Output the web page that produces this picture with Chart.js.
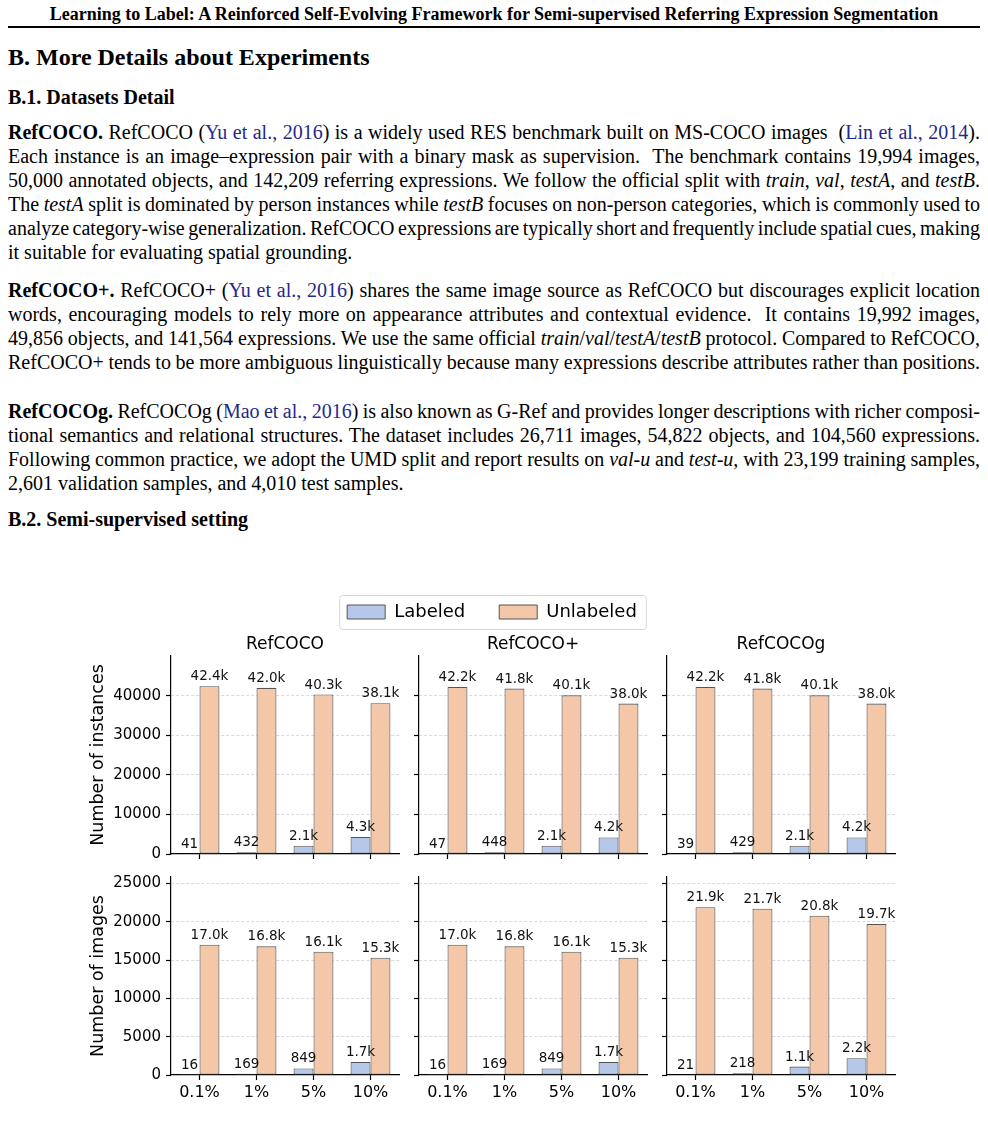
<!DOCTYPE html>
<html>
<head>
<meta charset="utf-8">
<script src="https://cdn.jsdelivr.net/npm/chart.js@4.4.1/dist/chart.umd.min.js"></script>
<style>
  html, body { margin: 0; padding: 0; background: #fff; }
  body { width: 988px; height: 1128px; position: relative; overflow: hidden;
         font-family: "Liberation Serif", "Times New Roman", serif; color: #000; }
  .abs { position: absolute; }
  .hdr { left: 8px; width: 972px; top: 4px; text-align: center; font-weight: bold; font-size: 18px; line-height: 20px; }
  .rule { left: 8px; width: 972px; top: 26px; height: 2px; background: #000; }
  .h1 { left: 8px; top: 43px; font-size: 24px; font-weight: bold; line-height: 28px; }
  .h2 { left: 8px; font-size: 20px; font-weight: bold; line-height: 24px; }
  .para { left: 8px; width: 972px; font-size: 20px; line-height: 24px; }
  .ln { white-space: nowrap; text-align: justify; text-align-last: justify; height: 24px; }
  .ln.last { text-align: left; text-align-last: left; }
  .cite { color: #1f2a8c; }
  canvas { position: absolute; }
</style>
</head>
<body>

<div class="abs hdr">Learning to Label: A Reinforced Self-Evolving Framework for Semi-supervised Referring Expression Segmentation</div>
<div class="abs rule"></div>
<div class="abs h1">B. More Details about Experiments</div>
<div class="abs h2" style="top:85px">B.1. Datasets Detail</div>

<div class="abs para" style="top:120px">
  <div class="ln"><b>RefCOCO.</b> RefCOCO (<span class="cite">Yu et al., 2016</span>) is a widely used RES benchmark built on MS-COCO images &nbsp;(<span class="cite">Lin et al., 2014</span>).</div>
  <div class="ln">Each instance is an image–expression pair with a binary mask as supervision. &nbsp;The benchmark contains 19,994 images,</div>
  <div class="ln">50,000 annotated objects, and 142,209 referring expressions. We follow the official split with <i>train</i>, <i>val</i>, <i>testA</i>, and <i>testB</i>.</div>
  <div class="ln">The <i>testA</i> split is dominated by person instances while <i>testB</i> focuses on non-person categories, which is commonly used to</div>
  <div class="ln">analyze category-wise generalization. RefCOCO expressions are typically short and frequently include spatial cues, making</div>
  <div class="ln last">it suitable for evaluating spatial grounding.</div>
</div>

<div class="abs para" style="top:278px">
  <div class="ln"><b>RefCOCO+.</b> RefCOCO+ (<span class="cite">Yu et al., 2016</span>) shares the same image source as RefCOCO but discourages explicit location</div>
  <div class="ln">words, encouraging models to rely more on appearance attributes and contextual evidence. &nbsp;It contains 19,992 images,</div>
  <div class="ln">49,856 objects, and 141,564 expressions. We use the same official <i>train</i>/<i>val</i>/<i>testA</i>/<i>testB</i> protocol. Compared to RefCOCO,</div>
  <div class="ln">RefCOCO+ tends to be more ambiguous linguistically because many expressions describe attributes rather than positions.</div>
</div>

<div class="abs para" style="top:399px">
  <div class="ln"><b>RefCOCOg.</b> RefCOCOg (<span class="cite">Mao et al., 2016</span>) is also known as G-Ref and provides longer descriptions with richer composi-</div>
  <div class="ln">tional semantics and relational structures. The dataset includes 26,711 images, 54,822 objects, and 104,560 expressions.</div>
  <div class="ln">Following common practice, we adopt the UMD split and report results on <i>val-u</i> and <i>test-u</i>, with 23,199 training samples,</div>
  <div class="ln last">2,601 validation samples, and 4,010 test samples.</div>
</div>

<div class="abs h2" style="top:507px">B.2. Semi-supervised setting</div>

<script>
// squeeze justified lines that are naturally wider than the column
document.querySelectorAll('.ln').forEach(el => {
  el.innerHTML = '<span>' + el.innerHTML + '</span>';
  const span = el.firstElementChild;
  const prev = el.style.textAlignLast;
  el.style.textAlign = 'left';
  el.style.textAlignLast = 'left';
  const w = span.getBoundingClientRect().width;
  el.style.textAlign = '';
  el.style.textAlignLast = prev;
  const target = 972;
  if (w > target) {
    const spaces = (span.textContent.match(/ /g) || []).length;
    if (spaces) el.style.wordSpacing = ((target - w) / spaces - 0.05) + 'px';
  }
});
</script>

<script>
// ---- data ----
const percents = ["0.1%", "1%", "5%", "10%"];
const datasetNames = ["RefCOCO", "RefCOCO+", "RefCOCOg"];

// number of instances
const refcocoInstLabeled = [41, 432, 2100, 4300];
const refcocoInstUnlabeled = [42400, 42000, 40300, 38100];
const refcocoPlusInstLabeled = [47, 448, 2100, 4200];
const refcocoPlusInstUnlabeled = [42200, 41800, 40100, 38000];
const refcocogInstLabeled = [39, 429, 2100, 4200];
const refcocogInstUnlabeled = [42200, 41800, 40100, 38000];

// number of images
const refcocoImgLabeled = [16, 169, 849, 1700];
const refcocoImgUnlabeled = [17000, 16800, 16100, 15300];
const refcocoPlusImgLabeled = [16, 169, 849, 1700];
const refcocoPlusImgUnlabeled = [17000, 16800, 16100, 15300];
const refcocogImgLabeled = [21, 218, 1100, 2200];
const refcocogImgUnlabeled = [21900, 21700, 20800, 19700];

const instTicks = [0, 10000, 20000, 30000, 40000];
const imgTicks = [0, 5000, 10000, 15000, 20000, 25000];

// ---- style ----
const FONT = "DejaVu Sans";
const blue = "#b5c8ea";
const peach = "#f4c7a9";
const edge = "#555555";

Chart.defaults.font.family = FONT;
Chart.defaults.color = "#000";

const fmt = (v) => (v >= 1000 ? (v / 1000).toFixed(1) + "k" : String(v));

const barValueLabels = {
  id: "barValueLabels",
  afterDatasetsDraw(chart) {
    const { ctx } = chart;
    ctx.save();
    ctx.font = "13.5px '" + FONT + "'";
    ctx.fillStyle = "#111";
    ctx.textAlign = "center";
    ctx.textBaseline = "alphabetic";
    chart.data.datasets.forEach((ds, i) => {
      chart.getDatasetMeta(i).data.forEach((bar, j) => {
        ctx.fillText(fmt(ds.data[j]), bar.x, bar.y - 6);
      });
    });
    ctx.restore();
  },
};

const rows = [
  {
    top: 656,
    yTitle: "Number of instances",
    ticks: instTicks,
    labeled: [refcocoInstLabeled, refcocoPlusInstLabeled, refcocogInstLabeled],
    unlabeled: [refcocoInstUnlabeled, refcocoPlusInstUnlabeled, refcocogInstUnlabeled],
  },
  {
    top: 877,
    yTitle: "Number of images",
    ticks: imgTicks,
    labeled: [refcocoImgLabeled, refcocoPlusImgLabeled, refcocogImgLabeled],
    unlabeled: [refcocoImgUnlabeled, refcocoPlusImgUnlabeled, refcocogImgUnlabeled],
  },
];

const colLeft = [171, 419, 667];
const plotW = 228;
const plotH = 198;
const xAxisH = 30;

function addCanvas(left, top, w, h) {
  const c = document.createElement("canvas");
  c.width = w;
  c.height = h;
  c.style.left = left + "px";
  c.style.top = top + "px";
  c.style.width = w + "px";
  c.style.height = h + "px";
  document.body.appendChild(c);
  return c;
}

rows.forEach((row, r) => {
  const yMax = Math.max(...row.unlabeled.flat()) * 1.18;
  datasetNames.forEach((name, c) => {
    const yw = c === 0 ? 91 : 10;
    const topSpace = r === 0 ? 36 : 20;
    const canvas = addCanvas(colLeft[c] - yw, row.top - topSpace, yw + plotW + 12, topSpace + plotH + xAxisH);

    new Chart(canvas, {
      type: "bar",
      data: {
        labels: percents,
        datasets: [
          { label: "Labeled", data: row.labeled[c], backgroundColor: blue, borderColor: edge, borderWidth: 1.1, borderSkipped: false },
          { label: "Unlabeled", data: row.unlabeled[c], backgroundColor: peach, borderColor: edge, borderWidth: 1.1, borderSkipped: false },
        ],
      },
      options: {
        responsive: false,
        animation: false,
        devicePixelRatio: 1,
        layout: { padding: { top: r === 0 ? 0 : 20, right: 12, left: 0, bottom: 0 } },
        datasets: { bar: { categoryPercentage: 0.7, barPercentage: 1.0 } },
        plugins: {
          legend: { display: false },
          tooltip: { enabled: false },
          title: {
            display: r === 0,
            text: name,
            fullSize: false,
            color: "#000",
            font: { family: FONT, size: 17, weight: "normal" },
            padding: { top: 14.6, bottom: 1 },
          },
        },
        scales: {
          x: {
            grid: { drawOnChartArea: false, drawTicks: true, tickLength: 5, tickColor: "#000", tickWidth: 1.2, offset: false },
            border: { display: true, color: "#000", width: 1.2 },
            ticks: { display: r === 1, color: "#000", font: { family: FONT, size: 16 }, padding: 3.5, autoSkip: false, maxRotation: 0 },
            afterFit: (s) => { s.height = xAxisH; },
          },
          y: {
            min: 0,
            max: yMax,
            afterBuildTicks: (s) => { s.ticks = row.ticks.map((v) => ({ value: v })); },
            grid: {
              color: (ctx) => (ctx.tick && ctx.tick.value === 0 ? "rgba(0,0,0,0)" : "#cfcfcf"),
              lineWidth: 0.8,
              tickColor: "#000",
              tickLength: 5,
              tickWidth: 1.2,
            },
            border: { display: true, color: "#000", width: 1.2, dash: [3, 2] },
            ticks: {
              display: c === 0,
              color: "#000",
              font: { family: FONT, size: 15 },
              padding: 5,
              callback: (v) => String(v),
            },
            title: {
              display: c === 0,
              text: row.yTitle,
              color: "#000",
              font: { family: FONT, size: 17.5 },
              padding: { top: 7.5, bottom: 0 },
            },
            afterFit: (s) => { s.width = yw; },
          },
        },
      },
      plugins: [barValueLabels],
    });
  });
});

// ---- shared legend ----
const legendFrame = {
  id: "legendFrame",
  afterDraw(chart) {
    const hb = chart.legend.legendHitBoxes;
    if (!hb || !hb.length) return;
    const last = hb[hb.length - 1];
    const x0 = hb[0].left - 8;
    const x1 = last.left + last.width + 9;
    const y0 = hb[0].top - 8;
    const y1 = hb[0].top + hb[0].height + 8;
    const { ctx } = chart;
    ctx.save();
    ctx.strokeStyle = "#d6d6d6";
    ctx.lineWidth = 1;
    ctx.beginPath();
    ctx.roundRect(x0 + 0.5, y0 + 0.5, x1 - x0, y1 - y0, 3);
    ctx.stroke();
    ctx.restore();
  },
};

const legendCanvas = addCanvas(0, 569, 984, 140);
new Chart(legendCanvas, {
  type: "bar",
  data: {
    labels: [],
    datasets: [
      { label: "Labeled", data: [], backgroundColor: blue, borderColor: edge, borderWidth: 1 },
      { label: "Unlabeled", data: [], backgroundColor: peach, borderColor: edge, borderWidth: 1 },
    ],
  },
  options: {
    responsive: false,
    animation: false,
    devicePixelRatio: 1,
    scales: { x: { display: false }, y: { display: false } },
    plugins: {
      tooltip: { enabled: false },
      legend: {
        display: true,
        position: "top",
        labels: { boxWidth: 38, boxHeight: 14, padding: 34, color: "#000", font: { family: FONT, size: 18 } },
      },
    },
  },
  plugins: [legendFrame],
});
</script>
</body>
</html>
